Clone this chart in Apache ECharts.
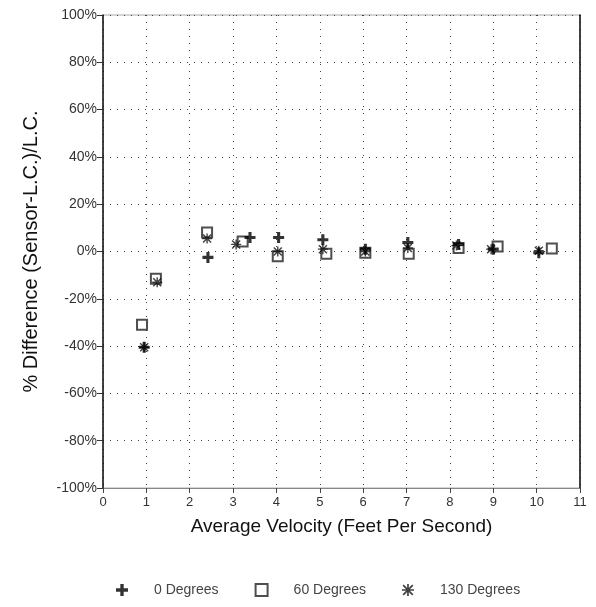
<!DOCTYPE html>
<html>
<head>
<meta charset="utf-8">
<script src="https://cdn.jsdelivr.net/npm/echarts@6/dist/echarts.min.js"></script>
<style>html,body{margin:0;padding:0;background:#fff}#c{width:596px;height:607px}</style>
</head>
<body>
<div id="c"></div>
<script>
const xTicks = [0,1,2,3,4,5,6,7,8,9,10,11];
const yTicks = [-100,-80,-60,-40,-20,0,20,40,60,80,100];
const seriesNames = ['0 Degrees','60 Degrees','130 Degrees'];
const deg0 = [[0.95,-40.5],[2.42,-2.5],[3.39,5.9],[4.05,5.9],[5.07,5],[6.05,1],[7.03,3.8],[8.2,3],[9.0,1],[10.05,-0.5]];
const deg60 = [[0.9,-31],[1.22,-11.5],[2.4,8],[3.22,4.2],[4.03,-2],[5.15,-1],[6.05,-0.5],[7.05,-1],[8.2,1.5],[9.1,2.1],[10.35,1.3]];
const deg130 = [[0.95,-40.5],[1.25,-13],[2.4,5.5],[3.07,3],[4.03,0],[5.07,1],[6.05,0],[7.03,1.5],[8.15,2.5],[8.95,1],[10.05,0.3]];

const plusPath = 'path://M3.6,0H6.4V3.6H10V6.4H6.4V10H3.6V6.4H0V3.6H3.6Z';
const starPath = 'path://M4.3,0H5.7V10H4.3Z M0,4.3H10V5.7H0Z M1.5,0.5L9.5,8.5L8.5,9.5L0.5,1.5Z M8.5,0.5L9.5,1.5L1.5,9.5L0.5,8.5Z';

const chart = echarts.init(document.getElementById('c'));
const font = 'Liberation Sans, Arial, sans-serif';
chart.setOption({
  animation: false,
  backgroundColor: '#fff',
  grid: {left: 103, right: 16, top: 15, bottom: 119, show: true, borderColor: '#aaa', borderWidth: 1},
  xAxis: {
    type: 'value', min: xTicks[0], max: xTicks[xTicks.length-1], interval: 1,
    name: 'Average Velocity (Feet Per Second)', nameLocation: 'middle', nameGap: 29,
    nameTextStyle: {fontFamily: font, fontSize: 19, color: '#111'},
    axisLine: {onZero: false, lineStyle: {color: '#888', width: 1}},
    axisTick: {show: true, inside: false, length: 5, lineStyle: {color: '#444'}},
    axisLabel: {fontFamily: font, fontSize: 13, color: '#333', margin: 8},
    splitLine: {show: true, lineStyle: {color: '#444', type: [1, 6], width: 1}}
  },
  yAxis: [{
    type: 'value', min: yTicks[0], max: yTicks[yTicks.length-1], interval: 20,
    name: '% Difference (Sensor-L.C.)/L.C.', nameLocation: 'middle', nameGap: 62,
    nameTextStyle: {fontFamily: font, fontSize: 20, color: '#111'},
    axisLine: {show: true, onZero: false, lineStyle: {color: '#111', width: 1.5}},
    axisTick: {show: true, length: 6, lineStyle: {color: '#333'}},
    axisLabel: {fontFamily: font, fontSize: 14, color: '#333', margin: 6, formatter: v => v + '%'},
    splitLine: {show: true, lineStyle: {color: '#444', type: [1, 6], width: 1}}
  }, {
    type: 'value', position: 'right', min: -100, max: 100, interval: 20,
    axisLine: {show: true, onZero: false, lineStyle: {color: '#111', width: 1.5}},
    axisTick: {show: false}, axisLabel: {show: false}, splitLine: {show: false}
  }],
  legend: {
    bottom: 5, left: 111, itemGap: 36, itemWidth: 12, itemHeight: 12,
    textStyle: {fontFamily: font, fontSize: 14, color: '#444', padding: [0,0,0,21]},
    data: [
      {name: seriesNames[0], icon: plusPath},
      {name: seriesNames[1], icon: 'emptyRect'},
      {name: seriesNames[2], icon: starPath}
    ]
  },
  series: [
    {name: seriesNames[1], type: 'scatter', data: deg60, symbol: 'emptyRect', symbolSize: 10,
     itemStyle: {color: '#222', borderColor: '#222', borderWidth: 1.2}},
    {name: seriesNames[2], type: 'scatter', data: deg130, symbol: starPath, symbolSize: 10,
     itemStyle: {color: '#111'}},
    {name: seriesNames[0], type: 'scatter', data: deg0, symbol: plusPath, symbolSize: 11,
     itemStyle: {color: '#000'}}
  ]
});
</script>
</body>
</html>
